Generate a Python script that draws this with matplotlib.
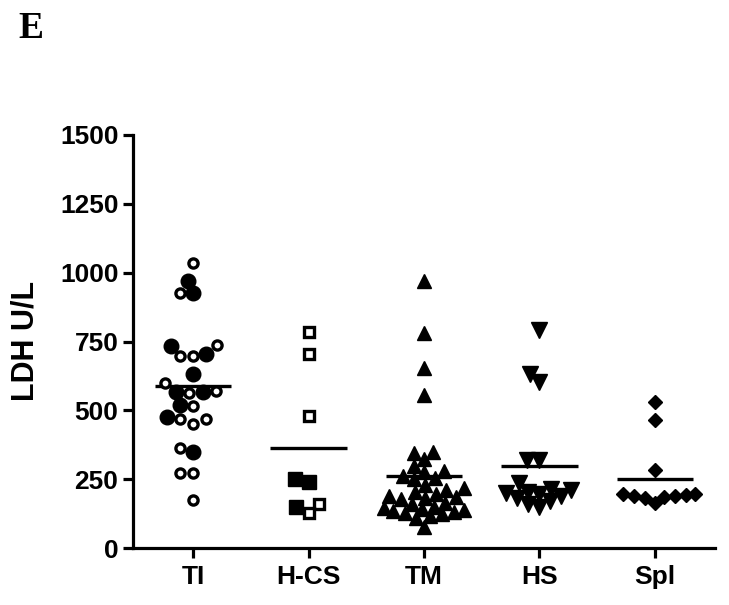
import numpy as np
import matplotlib
matplotlib.use("Agg")
import matplotlib.pyplot as plt

groups = ["TI", "H-CS", "TM", "HS", "Spl"]

# LDH values (U/L)
ti_filled = [970, 925, 735, 705, 632, 568, 568, 519, 476, 348]
ti_open = [1035, 925, 737, 697, 697, 598, 570, 563, 516, 469, 469, 452,
           362, 271, 271, 174]
hcs_open = [783, 705, 479, 160, 126]
hcs_filled = [251, 241, 148]
tm_values = [971, 782, 653, 556, 350, 344, 322, 298, 281, 277, 262, 255,
             252, 230, 217, 211, 205, 195, 189, 186, 182, 178, 165, 160,
             150, 145, 140, 138, 135, 130, 127, 122, 115, 110, 77]
hs_values = [792, 632, 604, 320, 320, 236, 213, 210, 205, 200, 195, 190,
             180, 170, 160, 150]
spl_values = [532, 465, 283, 195, 192, 188, 188, 185, 180, 165, 195]

y_ticks = [0, 250, 500, 750, 1000, 1250, 1500]


def swarm_offsets(y_px, d, maxw):
    """simple beeswarm in pixel space, returns x offsets in px"""
    order = np.argsort(y_px)
    placed = []
    offs = np.zeros(len(y_px))
    for i in order:
        y = y_px[i]
        cands = [0.0]
        for px, py in placed:
            dy = abs(y - py)
            if dy < d:
                dx = np.sqrt(d * d - dy * dy)
                cands += [px + dx, px - dx]
        cands = sorted(cands, key=lambda c: (abs(c), c))
        chosen = None
        for c in cands:
            if abs(c) > maxw:
                continue
            if all((c - px) ** 2 + (y - py) ** 2 >= d * d - 1e-6 for px, py in placed):
                chosen = c
                break
        if chosen is None:
            grid = np.linspace(-maxw, maxw, 41)
            score = [min((g - px) ** 2 + (y - py) ** 2 for px, py in placed) for g in grid]
            chosen = grid[int(np.argmax(score))]
        placed.append((chosen, y))
        offs[i] = chosen
    return offs


W, H = 729, 605
fig = plt.figure(figsize=(W / 100, H / 100), dpi=100)
ax = fig.add_axes([133 / W, 57 / H, 582 / W, 413 / H])
ax.set_xlim(-0.52, 4.52)
ax.set_ylim(0, 1500)

px_per_cat = 582 / 5.04
px_per_unit = 413 / 1500


def jitter(vals, d=13, maxw=40):
    y_px = np.asarray(vals, float) * px_per_unit
    return swarm_offsets(y_px, d, maxw) / px_per_cat


lw = 2.3
filled = dict(color="black", linestyle="none", zorder=3, clip_on=False)
hollow = dict(mfc="white", mec="black", mew=2.4, linestyle="none", zorder=3, clip_on=False)

# TI: filled + open circles, one swarm
ti_all = ti_filled + ti_open
off = jitter(ti_all, d=13.5)
nf = len(ti_filled)
ax.plot(0 + off[:nf], ti_filled, marker="o", ms=10.5, **filled)
ax.plot(0 + off[nf:], ti_open, marker="o", ms=6.6, **hollow)

# H-CS: open + filled squares
hcs_all = hcs_open + hcs_filled
off = jitter(hcs_all, d=14)
no = len(hcs_open)
ax.plot(1 + off[:no], hcs_open, marker="s", ms=6.8, **hollow)
ax.plot(1 + off[no:], hcs_filled, marker="s", ms=10.5, **filled)

# TM, HS, Spl
ax.plot(2 + jitter(tm_values, d=12), tm_values, marker="^", ms=10.5, **filled)
ax.plot(3 + jitter(hs_values, d=12), hs_values, marker="v", ms=11.5, **filled)
ax.plot(4 + jitter(spl_values, d=11), spl_values, marker="D", ms=7.6, **filled)

# mean lines
all_groups = [ti_all, hcs_all, tm_values, hs_values, spl_values]
for i, vals in enumerate(all_groups):
    m = np.mean(vals)
    ax.hlines(m, i - 0.33, i + 0.33, color="black", lw=2.4, zorder=2)

for side in ["top", "right"]:
    ax.spines[side].set_visible(False)
for side in ["left", "bottom"]:
    ax.spines[side].set_linewidth(lw)

ax.set_xticks(range(len(groups)))
ax.set_xticklabels(groups)
ax.set_yticks(y_ticks)
ax.set_yticklabels([str(t) for t in y_ticks])
ax.tick_params(axis="both", width=lw, length=7.5, direction="out")
ax.tick_params(axis="y", pad=3)
ax.tick_params(axis="x", pad=5)
for lab in ax.get_xticklabels() + ax.get_yticklabels():
    lab.set_fontfamily("Liberation Sans")
    lab.set_fontweight("bold")
    lab.set_fontsize(19)

fig.text(25 / W, 1 - 341 / H, "LDH U/L", rotation=90, ha="center", va="center",
         fontsize=22, fontweight="bold", family="Liberation Sans")
fig.text(18 / W, 1 - 38 / H, "E", ha="left", va="baseline",
         fontsize=27, fontweight="bold", family="Liberation Serif")

fig.savefig("out.png", dpi=100)
